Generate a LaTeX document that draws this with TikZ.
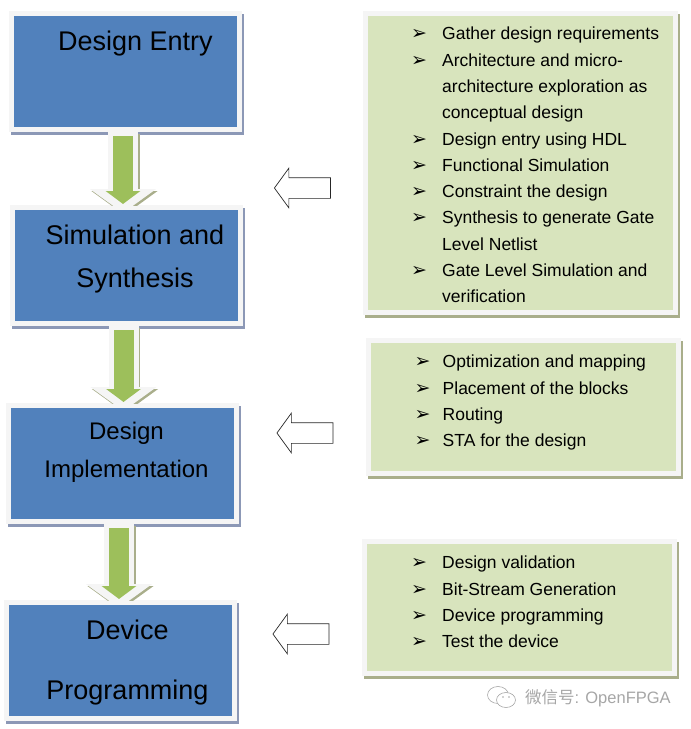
\documentclass[tikz,border=0pt]{standalone}
\usepackage{fontspec}
\setmainfont{Liberation Sans}
\newfontfamily\cjkfont{Noto Sans CJK SC}
\newfontfamily\markfont{DejaVu Sans}
\usepackage{xcolor}
\usetikzlibrary{
  arrows.meta,
  positioning,
  shadows,
  shapes.arrows,
  shapes.geometric
}
\definecolor{blueFill}{HTML}{5181BC}
\definecolor{blueShade}{HTML}{8C98B6}
\definecolor{frameGray}{HTML}{F5F5F5}
\definecolor{greenFill}{HTML}{D8E4BD}
\definecolor{greenShade}{HTML}{A9AE8B}
\definecolor{arrowGreen}{HTML}{9DBF5B}
\definecolor{markGray}{HTML}{A6A6A6}
\tikzset{
  flowbox/.style={
    rectangle, fill=frameGray, minimum width=233pt, minimum height=121pt,
    inner sep=0pt, outer sep=0pt,
    general shadow={shadow xshift=2pt, shadow yshift=-3pt, fill=blueShade},
    path picture={\fill[blueFill]
      ([shift={(5pt,5pt)}]path picture bounding box.south west) rectangle
      ([shift={(-5pt,-5pt)}]path picture bounding box.north east);}
  },
  panel/.style={
    rectangle, fill=frameGray, minimum width=315pt, inner sep=0pt, outer sep=0pt,
    general shadow={shadow xshift=2pt, shadow yshift=-3pt, fill=greenShade},
    path picture={\fill[greenFill]
      ([shift={(5pt,5pt)}]path picture bounding box.south west) rectangle
      ([shift={(-5pt,-5pt)}]path picture bounding box.north east);}
  },
  ttl/.style={align=center, anchor=base, inner sep=0pt},
  lst/.style={align=left, anchor=north west, inner sep=0pt,
    font=\fontsize{17.5}{26.3}\selectfont},
  hollow/.style={
    single arrow, draw=black!85, fill=white, line width=0.7pt, anchor=tip,
    shape border rotate=180, minimum height=56pt,
    single arrow head extend=9.5pt, single arrow tip angle=108,
    inner xsep=0pt, inner ysep=10pt
  },
  arrshade/.style={line width=30pt, draw=greenShade, fill=greenShade,
    -{Triangle[length=24pt,width=65pt,fill=greenShade]}},
  arrframe/.style={line width=30pt, draw=frameGray, fill=frameGray,
    -{Triangle[length=24pt,width=65pt,fill=frameGray]}},
  arrfill/.style={line width=20pt, draw=arrowGreen, fill=arrowGreen,
    -{Triangle[length=13pt,width=34pt,fill=arrowGreen]}},
  wechat/.style={ellipse, draw=markGray, line width=0.6pt, inner sep=0pt},
  wxdot/.style={circle, fill=markGray, minimum size=1.6pt, inner sep=0pt}
}
\newcommand{\itmgap}{29pt}
\newcommand{\itm}[1]{\makebox[\itmgap][l]{\hspace*{-2pt}\markfont\fontsize{19}{19}\selectfont ➢}#1}
\newcommand{\cnt}[1]{\hspace*{\itmgap}#1}
% source box, target box, sideways offset
\newcommand{\flowarr}[3]{
  \begin{scope}
    \clip (#1.south west) rectangle ([xshift=4pt]#2.north east);
    \draw[arrshade] ([shift={(#3+1.5pt,-2pt)}]#1.south) --
      ([shift={(#3+1.5pt,-10pt)}]#1.south |- #2.north);
    \draw[arrframe] ([xshift=#3]#1.south) --
      ([shift={(#3,-8pt)}]#1.south |- #2.north);
    \draw[arrfill] ([shift={(#3,-4pt)}]#1.south) --
      ([shift={(#3,1pt)}]#1.south |- #2.north);
  \end{scope}
}
\begin{document}
\begin{tikzpicture}[x=1pt,y=-1pt]
    \useasboundingbox (0,0) rectangle (691,729);

    \node[flowbox] (entry) at (125.75,71.5) {};
    \node[flowbox, below=73pt of entry, xshift=0.75pt] (simul) {};
    \node[flowbox, below=77pt of simul, xshift=-4pt] (impl) {};
    \node[flowbox, below=76pt of impl, xshift=-2pt] (prog) {};

    \flowarr{entry}{simul}{-2.75pt}
    \flowarr{simul}{impl}{-3pt}
    \flowarr{impl}{prog}{-3.5pt}

    \node[ttl, font=\fontsize{27}{43}\selectfont] (entryTxt) at (135.5,50)
      {Design Entry};
    \node[ttl, font=\fontsize{27}{43}\selectfont] (simulTxt) at (135,287)
      {Simulation and\\Synthesis};
    \node[ttl, font=\fontsize{24}{38}\selectfont] (implTxt) at (126.5,477)
      {Design\\Implementation};
    \node[ttl, font=\fontsize{27}{60}\selectfont] (progTxt) at (127.5,699)
      {Device\\Programming};

    \node[panel, minimum height=304pt] (entryPan) at (520.5,163) {};
    \node[panel, minimum height=138pt] (implPan) at (523.5,407) {};
    \node[panel, minimum height=137pt] (progPan) at (519.5,607.5) {};

    \node[lst] (entryLst) at (413,27)
      {\itm{Gather design requirements}\\
       \itm{Architecture and micro-}\\
       \cnt{architecture exploration as}\\
       \cnt{conceptual design}\\
       \itm{Design entry using HDL}\\
       \itm{Functional Simulation}\\
       \itm{Constraint the design}\\
       \itm{Synthesis to generate Gate}\\
       \cnt{Level Netlist}\\
       \itm{Gate Level Simulation and}\\
       \cnt{verification}};
    \renewcommand{\itmgap}{26pt}
    \node[lst] (implLst) at (416.5,355)
      {\itm{Optimization and mapping}\\
       \itm{Placement of the blocks}\\
       \itm{Routing}\\
       \itm{STA for the design}};
    \renewcommand{\itmgap}{29pt}
    \node[lst] (progLst) at (413,556)
      {\itm{Design validation}\\
       \itm{Bit-Stream Generation}\\
       \itm{Device programming}\\
       \itm{Test the device}};

    \node[hollow] (entryArr) at (274,188) {};
    \node[hollow] (implArr) at (276.5,433) {};
    \node[hollow] (progArr) at (272.5,634) {};

    \node[wechat, minimum width=21pt, minimum height=17pt] (wxBack) at (498,695) {};
    \node[wechat, fill=white, minimum width=19pt, minimum height=15pt] (wxFront) at (506,700) {};
    \node[wxdot] (wxDotA) at (503,697) {};
    \node[wxdot] (wxDotB) at (509,697) {};
    \node[anchor=base west, inner sep=0pt, text=markGray,
      font=\fontsize{16.5}{18}\selectfont] (markTxt) at (525,703)
      {{\cjkfont 微信号}: OpenFPGA};
\end{tikzpicture}
\end{document}
